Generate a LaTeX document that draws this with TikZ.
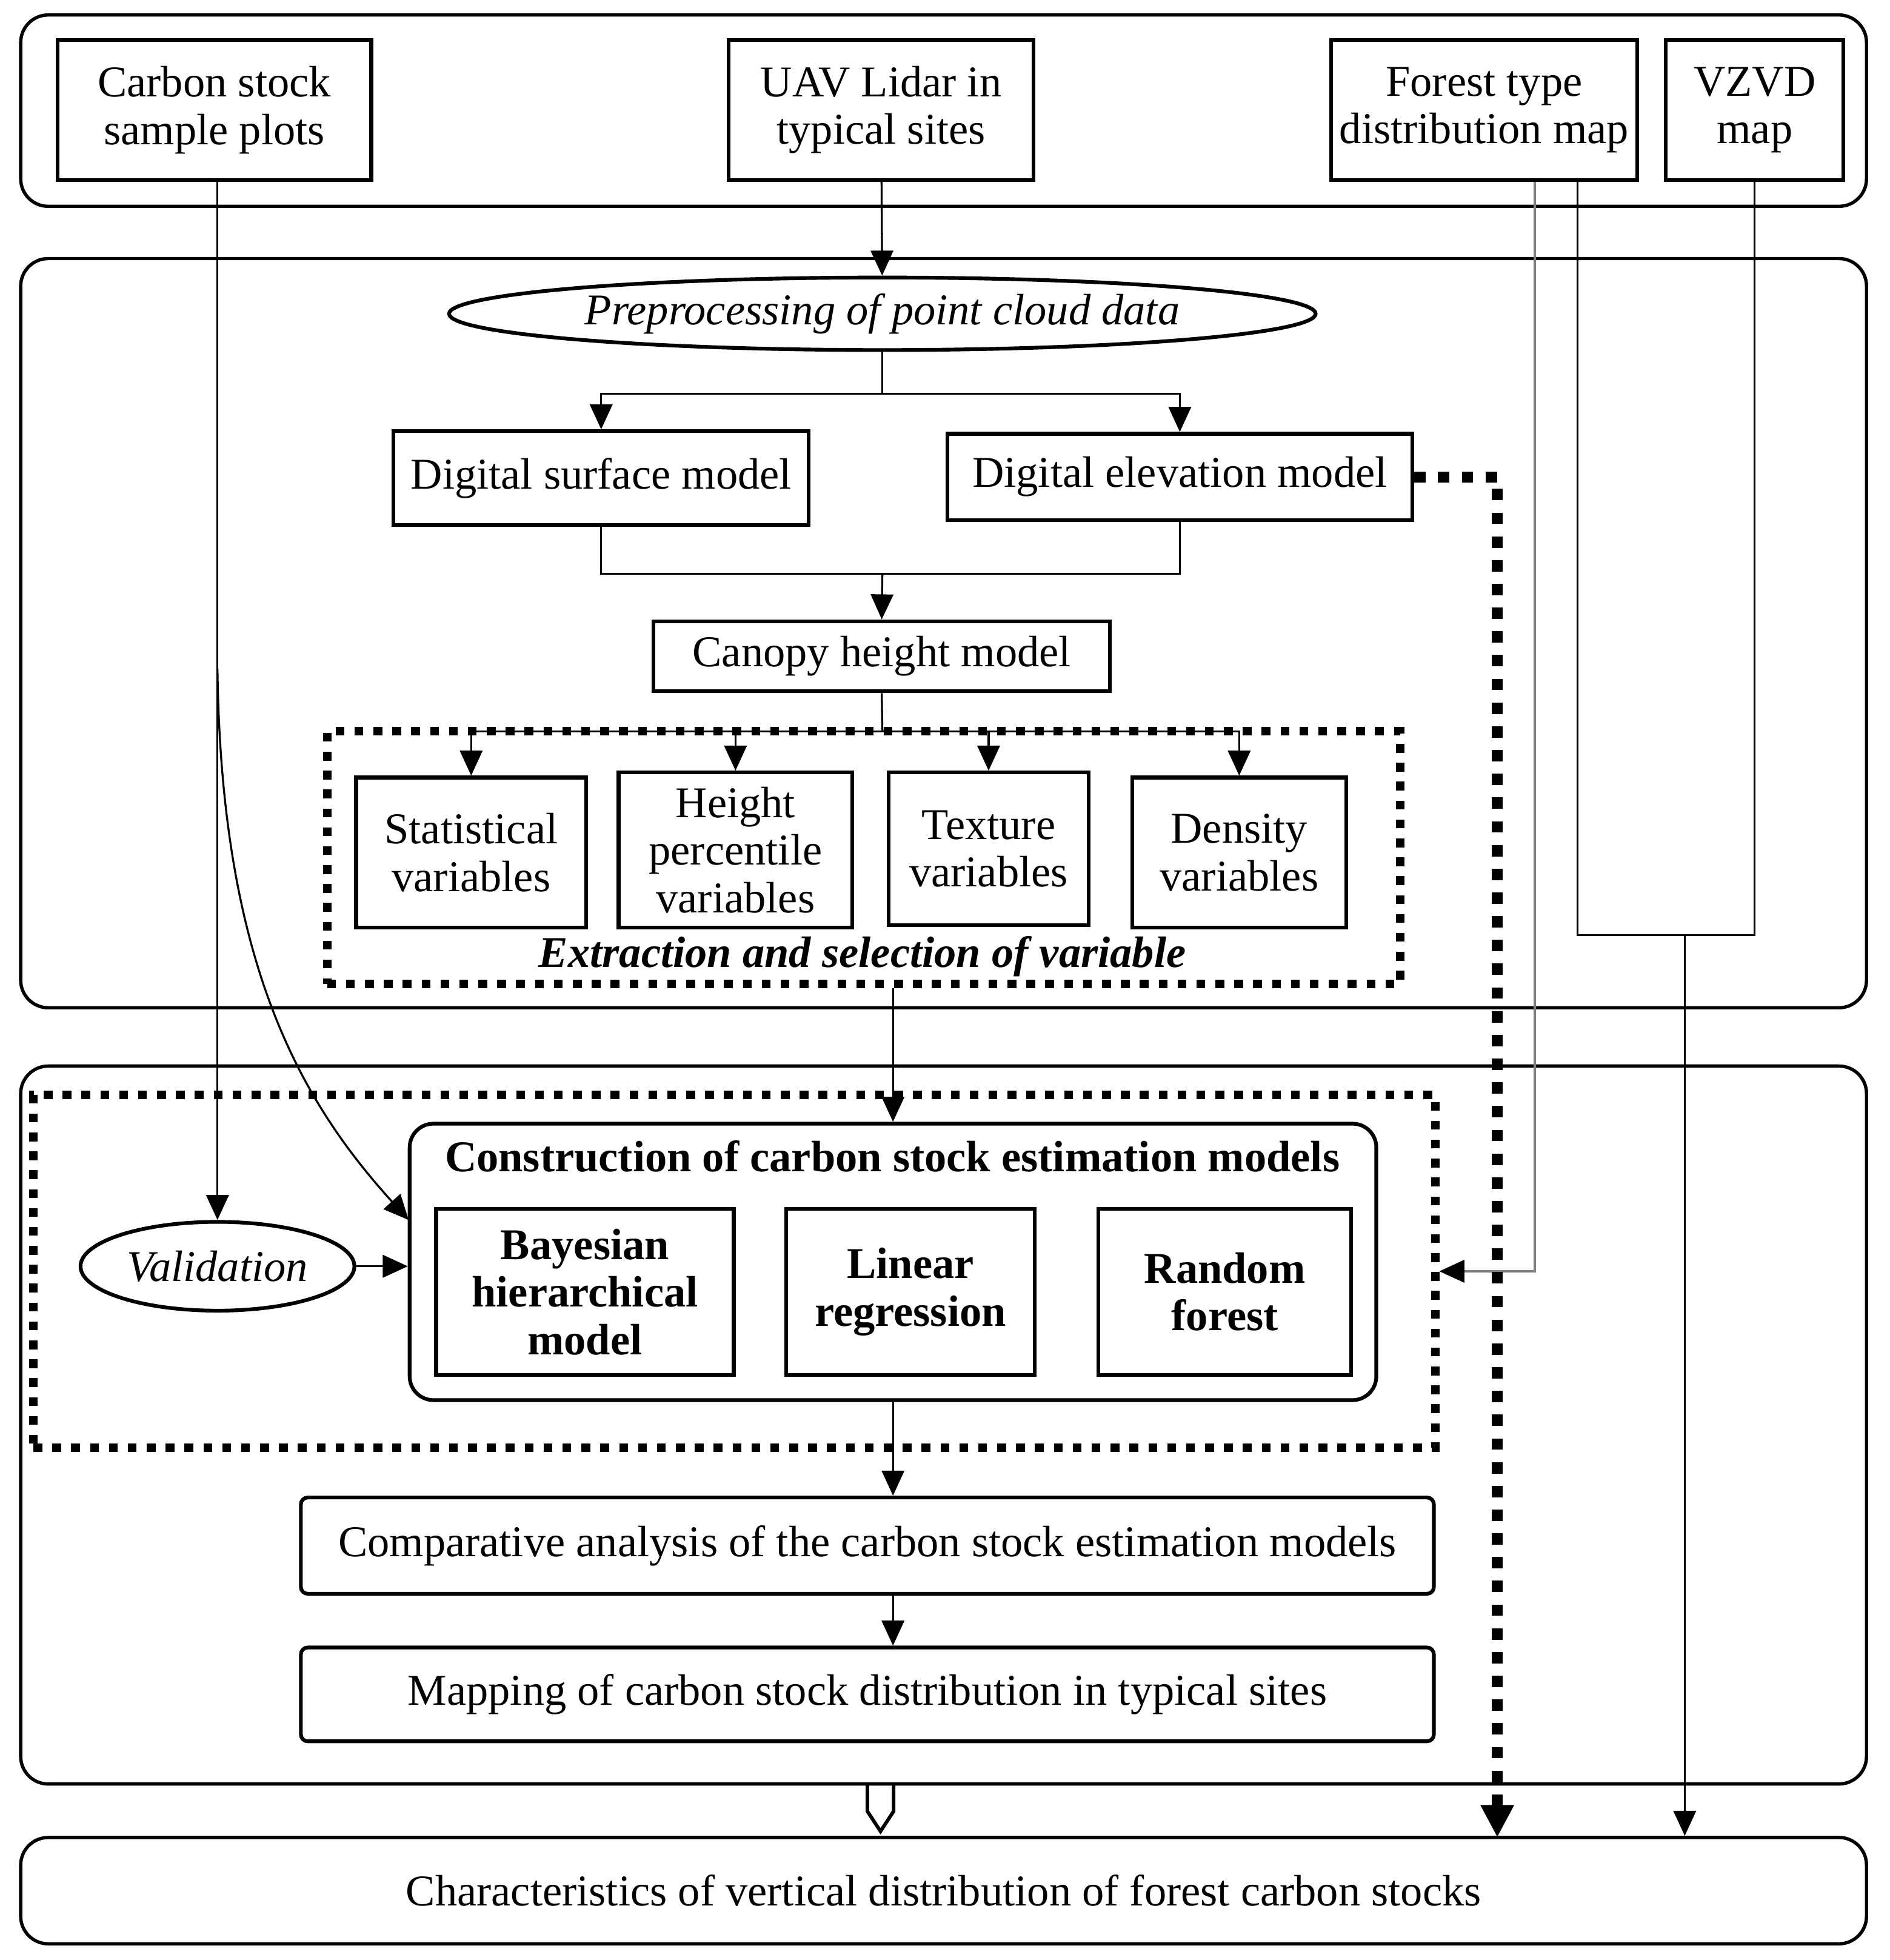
\documentclass[tikz,border=0pt]{standalone}
\usepackage{fontspec}
\setmainfont{Liberation Serif}
\usetikzlibrary{arrows.meta,shapes.geometric,calc}

\tikzset{
  frame/.style={draw, line width=0.75pt, rounded corners=0.22cm, minimum width=14.76cm},
  box/.style={draw, line width=0.85pt, align=center, inner sep=0pt},
  oval/.style={draw, ellipse, line width=0.85pt, inner sep=0pt, font=\itshape},
  dotbox/.style={draw, line width=1.9pt, dash pattern=on 2pt off 2.3pt},
  line/.style={line width=0.45pt},
  link/.style={line width=0.45pt, -{Triangle[length=0.2cm, width=0.18cm, color=black]}},
  dotlink/.style={line width=2.5pt, dash pattern=on 2.6pt off 2.8pt,
    -{Triangle[length=0.26cm, width=0.25cm]}},
}

\begin{document}
\fontsize{10}{10.8}\selectfont
\begin{tikzpicture}[x=0.01cm, y=-0.01cm]
  \useasboundingbox (0,0) rectangle (1512,1568);

  % the four frames
  \node[frame, minimum height=1.53cm] (inputs) at (755,88.5) {};
  \node[frame, minimum height=5.99cm] (lidar) at (755,506.5) {};
  \node[frame, minimum height=5.74cm] (models) at (755,1140) {};
  \node[frame, minimum height=0.85cm] (result) at (755,1512.5)
    {Characteristics of vertical distribution of forest carbon stocks};

  % data sources
  \node[box, minimum width=2.51cm, minimum height=1.12cm] (plots) at (171.5,88) {Carbon stock\\sample plots};
  \node[box, minimum width=2.44cm, minimum height=1.12cm] (uav) at (705,88) {UAV Lidar in\\typical sites};
  \node[box, minimum width=2.45cm, minimum height=1.12cm] (ftype) at (1187.5,88) {Forest type\\distribution map};
  \node[box, minimum width=1.42cm, minimum height=1.12cm] (vzvd) at (1404,88) {VZVD\\map};

  % point cloud processing
  \node[oval, minimum width=6.93cm, minimum height=0.58cm] (prep) at (706,251) {Preprocessing of point cloud data};
  \node[box, minimum width=3.32cm, minimum height=0.75cm] (dsm) at (481,382.5) {Digital surface model};
  \node[box, minimum width=3.72cm, minimum height=0.69cm] (dem) at (944,381.5) {Digital elevation model};
  \node[box, minimum width=3.65cm, minimum height=0.56cm] (chm) at (705.5,525) {Canopy height model};

  % variables
  \node[dotbox, minimum width=8.58cm, minimum height=2.02cm] (extract) at (691,686) {};
  \node[box, minimum width=1.84cm, minimum height=1.20cm] (stat) at (377,682) {Statistical\\variables};
  \node[box, minimum width=1.87cm, minimum height=1.24cm] (hpct) at (588.5,680) {Height\\percentile\\variables};
  \node[box, minimum width=1.60cm, minimum height=1.22cm] (texture) at (791,679) {Texture\\variables};
  \node[box, minimum width=1.71cm, minimum height=1.20cm] (density) at (991.5,682) {Density\\variables};
  \node[font=\bfseries\itshape] (extractlbl) at (690,765) {Extraction and selection of variable};

  % models
  \node[dotbox, minimum width=11.21cm, minimum height=2.82cm] (modeldot) at (587.5,1017) {};
  \node[draw, line width=0.85pt, rounded corners=0.19cm, minimum width=7.73cm, minimum height=2.21cm] (construct) at (714.5,1009.5) {};
  \node[font=\bfseries] (constructlbl) at (714,925) {Construction of carbon stock estimation models};
  \node[box, font=\bfseries, minimum width=2.38cm, minimum height=1.33cm] (bayes) at (468,1033.5) {Bayesian\\hierarchical\\model};
  \node[box, font=\bfseries, minimum width=1.99cm, minimum height=1.33cm] (linear) at (728.5,1033.5) {Linear\\regression};
  \node[box, font=\bfseries, minimum width=2.02cm, minimum height=1.33cm] (rf) at (980,1033.5) {Random\\forest};
  \node[oval, minimum width=2.19cm, minimum height=0.71cm] (valid) at (174,1013) {Validation};
  \node[box, rounded corners=0.055cm, minimum width=9.06cm, minimum height=0.77cm] (compare) at (694,1236.5)
    {Comparative analysis of the carbon stock estimation models};
  \node[box, rounded corners=0.055cm, minimum width=9.06cm, minimum height=0.75cm] (mapping) at (694,1355.5)
    {Mapping of carbon stock distribution in typical sites};

  \coordinate (split) at (706,315);
  \coordinate (merge) at (706,459);
  \coordinate (fan) at (706,585);
  \coordinate (branch) at (174,535);
  \coordinate (join) at (1348,748);
  \coordinate (demdrop) at (1198,1470);
  \coordinate (hollow) at (704.5,1428);

  % connectors
  \draw[link] (uav) -- (prep);
  \draw[line] (prep.south) -- (split);
  \draw[link] (split) -| (dsm.north);
  \draw[link] (split) -| (dem.north);
  \draw[line] (dsm.south) |- (merge) -| (dem.south);
  \draw[link] (merge) -- (chm.north);
  \draw[line] (chm.south) -- (fan);
  \foreach \v in {stat,hpct,texture,density}
    \draw[link] (fan) -| (\v.north);
  \draw[link] (construct.north |- extract.south) -- (construct.north);
  \draw[link] (construct.south) -- (construct.south |- compare.north);
  \draw[link] (compare.south -| construct.south) -- (mapping.north -| construct.south);

  \draw[link] (plots.south -| valid.north) -- (valid.north);
  \draw[link] (branch) .. controls (177,770) and (240,880) .. (327,976);
  \draw[link] (valid.east) -- (valid.east -| construct.west);

  \draw[link, draw=gray] ([xshift=0.405cm]ftype.south) |- (modeldot.east);
  \draw[line] ([xshift=0.745cm]ftype.south) |- (join) -| (vzvd.south);
  \draw[link] (join) -- (join |- result.north);
  \draw[dotlink] (dem.east) -| (demdrop);

  \draw[line width=0.8pt, shift={(hollow)}] (-10.5,0) -- (-10.5,21) -- (0,37) -- (10.5,21) -- (10.5,0);
\end{tikzpicture}
\end{document}
